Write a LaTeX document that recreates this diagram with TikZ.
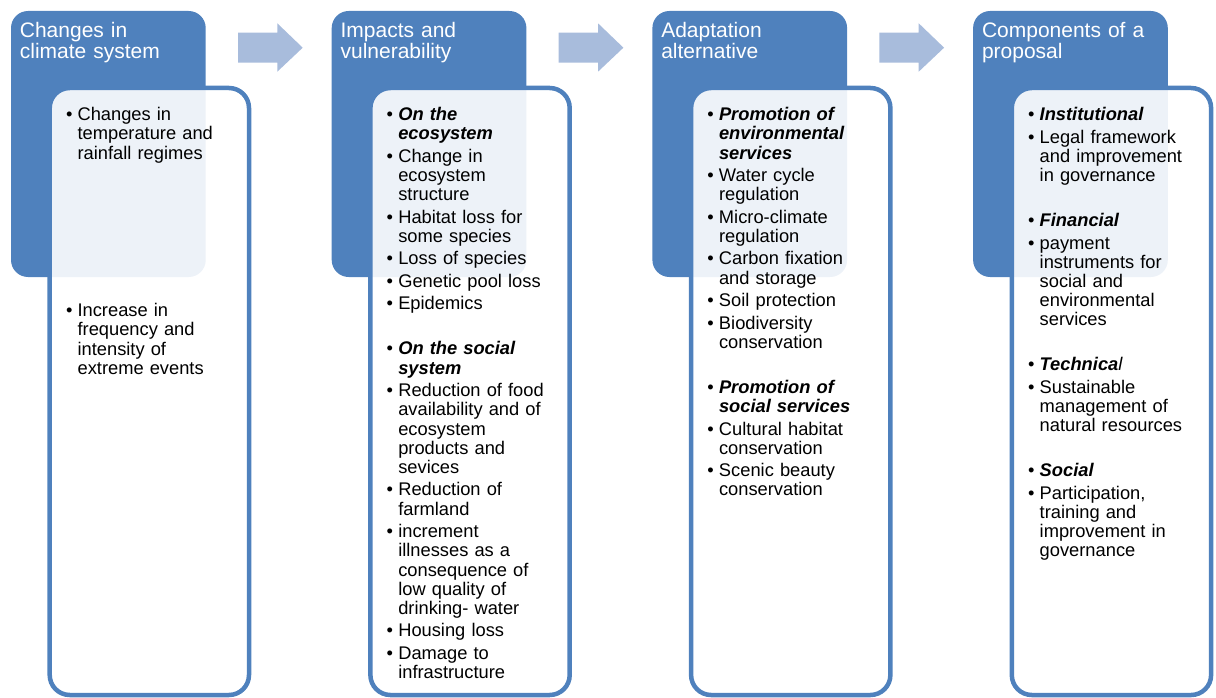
\documentclass[tikz,border=0pt]{standalone}
\usepackage{fontspec}
\setmainfont{Liberation Sans}
\definecolor{dkblue}{RGB}{79,129,189}
\definecolor{arrowc}{RGB}{168,188,220}
\newcommand\itm[1]{\par\hangindent=11.6pt\hangafter=1\noindent\makebox[11.6pt][l]{\rule{0pt}{14pt}\textbullet}{\let\\\newline#1}}
\newcommand\hd[1]{\textbf{\textit{#1}}}
\newcommand\blankline{\par\vspace{22.5pt}}
\tikzset{
 titlebox/.style={fill=dkblue, rounded corners=17pt, anchor=north west, minimum width=194.7pt, minimum height=266pt, inner sep=0pt, outer sep=0pt},
 panel/.style={draw=dkblue, line width=4.5pt, fill=white, fill opacity=0.9, draw opacity=1, rounded corners=20pt, anchor=north west, minimum width=199.3pt, minimum height=607pt, inner sep=0pt, outer sep=0pt},
 titletext/.style={anchor=north west, inner sep=0pt, text width=185pt, text=white, font=\fontsize{21}{21.5}\selectfont},
 bodytext/.style={anchor=north west, inner sep=0pt, text width=180pt, font=\fontsize{18.3}{19.2}\selectfont},
 blockarrow/.style={fill=arrowc}
}
\begin{document}
\begin{tikzpicture}[x=1pt,y=-1pt]
\useasboundingbox (0,0) rectangle (1216,698);
% title boxes
\node[titlebox] (h1) at (11,11) {};
\node[titlebox] (h2) at (331.7,11) {};
\node[titlebox] (h3) at (652.4,11) {};
\node[titlebox] (h4) at (973.1,11) {};
% panels
\node[panel] (p1) at (49.7,88) {};
\node[panel] (p2) at (370.4,88) {};
\node[panel] (p3) at (691.1,88) {};
\node[panel] (p4) at (1011.8,88) {};
% titles
\node[titletext] (t1) at (19.7,21) {\rule{0pt}{16pt}Changes in\\climate system};
\node[titletext] (t2) at (340.4,21) {\rule{0pt}{16pt}Impacts and\\vulnerability};
\node[titletext] (t3) at (661.1,21) {\rule{0pt}{16pt}Adaptation\\alternative};
\node[titletext] (t4) at (981.8,21) {\rule{0pt}{16pt}Components of a\\proposal};
% bodies
\node[bodytext] (b1) at (65.8,98) {\setlength{\parskip}{3.3pt}%
\itm{Changes in\\temperature and\\rainfall regimes}
\par\vspace{135.2pt}
\itm{Increase in\\frequency and\\intensity of\\extreme events}\par};
\node[bodytext] (b2) at (386.5,98) {\setlength{\parskip}{3.3pt}%
\itm{\hd{On the}\\\hd{ecosystem}}
\itm{Change in\\ecosystem\\structure}
\itm{Habitat loss for\\some species}
\itm{Loss of species}
\itm{Genetic pool loss}
\itm{Epidemics}
\blankline
\itm{\hd{On the social}\\\hd{system}}
\itm{Reduction of food\\availability and of\\ecosystem\\products and\\sevices}
\itm{Reduction of\\farmland}
\itm{increment\\illnesses as a\\consequence of\\low quality of\\drinking- water}
\itm{Housing loss}
\itm{Damage to\\infrastructure}\par};
\node[bodytext] (b3) at (707.2,98) {\setlength{\parskip}{3.3pt}%
\itm{\hd{Promotion of}\\\hd{environmental}\\\hd{services}}
\itm{Water cycle\\regulation}
\itm{Micro-climate\\regulation}
\itm{Carbon fixation\\and storage}
\itm{Soil protection}
\itm{Biodiversity\\conservation}
\blankline
\itm{\hd{Promotion of}\\\hd{social services}}
\itm{Cultural habitat\\conservation}
\itm{Scenic beauty\\conservation}\par};
\node[bodytext] (b4) at (1027.9,98) {\setlength{\parskip}{3.3pt}%
\itm{\hd{Institutional}}
\itm{Legal framework\\and improvement\\in governance}
\blankline
\itm{\hd{Financial}}
\itm{payment\\instruments for\\social and\\environmental\\services}
\blankline
\itm{\textbf{\textit{Technica}}\textit{l}}
\itm{Sustainable\\management of\\natural resources}
\blankline
\itm{\hd{Social}}
\itm{Participation,\\training and\\improvement in\\governance}\par};
% block arrows
\foreach \dx in {0,320.7,641.4} {
  \fill[blockarrow] (238+\dx,32.7) -- (277.3+\dx,32.7) -- (277.3+\dx,23.3) -- (302.7+\dx,47.7)
    -- (277.3+\dx,71.7) -- (277.3+\dx,62.7) -- (238+\dx,62.7) -- cycle;
}
\end{tikzpicture}
\end{document}
